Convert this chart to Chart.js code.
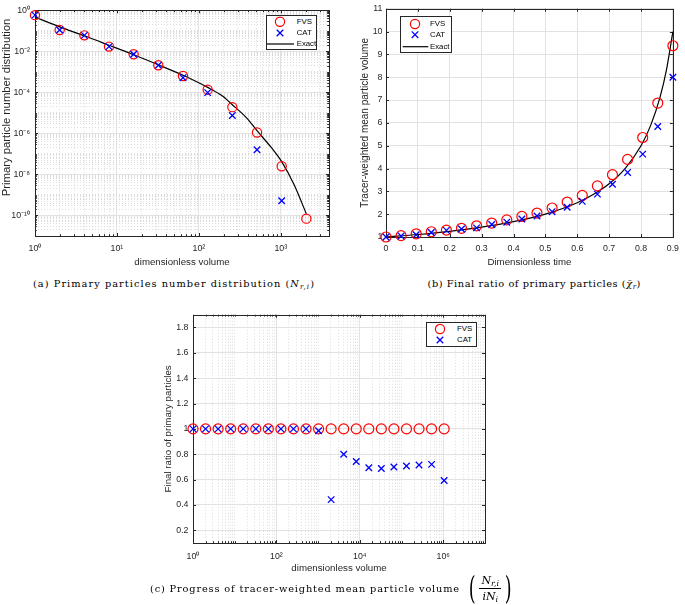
<!DOCTYPE html>
<html><head><meta charset="utf-8">
<script src="https://cdn.jsdelivr.net/npm/chart.js@4.4.1/dist/chart.umd.min.js"></script>
<style>
html,body{margin:0;padding:0;background:#fff;}
body{width:685px;height:605px;overflow:hidden;position:relative;font-family:"Liberation Sans",Arial,sans-serif;}
canvas{position:absolute;}
.leg{position:absolute;box-sizing:border-box;background:#fff;border:1px solid #262626;font:7.8px "Liberation Sans",Arial,sans-serif;color:#000;}
.leg span{position:absolute;line-height:10px;white-space:nowrap;}
.cap{position:absolute;font-family:"DejaVu Serif","Liberation Serif",serif;font-size:9.8px;line-height:13px;white-space:nowrap;color:#000;}
.cap sub{font-size:0.72em;vertical-align:-0.28em;line-height:0;}
.cap i{font-style:italic;}
.paren{font-size:32px;line-height:32px;display:inline-block;transform:scaleX(0.55);font-weight:lighter;}
</style></head>
<body>
<canvas id="ca" width="340" height="272" style="left:0;top:0"></canvas>
<canvas id="cb" width="345" height="272" style="left:340px;top:0"></canvas>
<canvas id="cc" width="345" height="272" style="left:150px;top:305px"></canvas>

<div class="cap" id="capA">(a) Primary particles number distribution (<i>N</i><sub><i>r,i</i></sub>)</div>
<div class="cap" id="capB">(b) Final ratio of primary particles (<i>χ̄</i><sub><i>r</i></sub>)</div>
<div class="cap" id="capC" style="display:flex;align-items:center;height:36px;">
  <span id="capCtext">(c) Progress of tracer-weighted mean particle volume</span>
  <span class="paren" style="margin-left:6px;">(</span>
  <span style="display:inline-flex;flex-direction:column;align-items:center;font-size:11px;line-height:13px;margin:0 1px;">
    <span style="border-bottom:0.8px solid #000;padding:0 2px 1px 2px;"><i>N</i><sub><i>r,i</i></sub></span>
    <span style="padding-top:1px;"><i>iN</i><sub><i>i</i></sub></span>
  </span>
  <span class="paren">)</span>
</div>

<script>
// ---------------- DATA ----------------
// (a) primary particles number distribution
const aVolume = [1, 2, 4, 8, 16, 32, 64, 128, 256, 512, 1024, 2048];
const aFVS    = [0.58, 0.11, 0.06, 0.017, 0.0072, 0.0021, 6.3e-4, 1.35e-4, 1.9e-5, 1.1e-6, 2.5e-8, 7e-11];
const aCATVol = [1, 2, 4, 8, 16, 32, 64, 128, 256, 512, 1024];
const aCAT    = [0.58, 0.11, 0.06, 0.017, 0.0072, 0.0021, 5.2e-4, 9.7e-5, 7.4e-6, 1.6e-7, 5.2e-10];
const aExactX = [1, 2, 4, 8, 16, 32, 64, 128, 192, 256, 384, 512, 768, 1024, 1448, 2048];
const aExactY = [0.47, 0.155, 0.057, 0.0198, 0.0068, 0.0022, 6.8e-4, 1.75e-4, 6.8e-5, 2.5e-5, 5.6e-6, 1.35e-6, 2.0e-7, 4.2e-8, 3.2e-9, 1.2e-10];
const aXTickVals   = [1, 10, 100, 1000];
const aXTickLabels = ['10⁰', '10¹', '10²', '10³'];
const aYTickVals   = [1, 1e-2, 1e-4, 1e-6, 1e-8, 1e-10];
const aYTickLabels = ['10⁰', '10⁻²', '10⁻⁴', '10⁻⁶', '10⁻⁸', '10⁻¹⁰'];

// (b) tracer-weighted mean particle volume vs time
const bTime   = [0, 0.0474, 0.0947, 0.1421, 0.1895, 0.2368, 0.2842, 0.3316, 0.3789, 0.4263, 0.4737, 0.5211, 0.5684, 0.6158, 0.6632, 0.7105, 0.7579, 0.8053, 0.8526, 0.9];
const bFVS    = [1.0, 1.06, 1.14, 1.23, 1.30, 1.38, 1.49, 1.61, 1.75, 1.90, 2.05, 2.27, 2.53, 2.82, 3.24, 3.73, 4.40, 5.36, 6.87, 9.38];
const bCAT    = [1.0, 1.04, 1.10, 1.20, 1.29, 1.35, 1.40, 1.55, 1.65, 1.79, 1.92, 2.11, 2.30, 2.56, 2.88, 3.31, 3.83, 4.63, 5.84, 8.0];
const bExactX = [0, 0.1, 0.2, 0.3, 0.4, 0.5, 0.6, 0.65, 0.7, 0.75, 0.8, 0.83, 0.86, 0.88, 0.9];
const bExactY = [1.0, 1.11, 1.25, 1.43, 1.67, 2.0, 2.5, 2.86, 3.33, 4.0, 5.0, 5.88, 7.14, 8.33, 10.0];
const bXTicks = [0, 0.1, 0.2, 0.3, 0.4, 0.5, 0.6, 0.7, 0.8, 0.9];
const bXTickLabels = ['0', '0.1', '0.2', '0.3', '0.4', '0.5', '0.6', '0.7', '0.8', '0.9'];
const bYTicks = [1, 2, 3, 4, 5, 6, 7, 8, 9, 10, 11];
const bYTickLabels = ['1', '2', '3', '4', '5', '6', '7', '8', '9', '10', '11'];

// (c) final ratio of primary particles
const cVolume = [1, 2, 4, 8, 16, 32, 64, 128, 256, 512, 1024, 2048, 4096, 8192, 16384, 32768, 65536, 131072, 262144, 524288, 1048576];
const cFVS    = [1, 1, 1, 1, 1, 1, 1, 1, 1, 1, 1, 1, 1, 1, 1, 1, 1, 1, 1, 1, 1];
const cCAT    = [1, 1, 1, 1, 1, 1, 1, 1, 1, 1, 0.985, 0.442, 0.80, 0.743, 0.694, 0.687, 0.699, 0.707, 0.715, 0.72, 0.593];
const cXTickVals   = [1, 100, 1e4, 1e6];
const cXTickLabels = ['10⁰', '10²', '10⁴', '10⁶'];
const cYTicks = [0.2, 0.4, 0.6, 0.8, 1.0, 1.2, 1.4, 1.6, 1.8];
const cYTickLabels = ['0.2', '0.4', '0.6', '0.8', '1', '1.2', '1.4', '1.6', '1.8'];

const seriesNames = ['FVS', 'CAT', 'Exact'];

// ---------------- STYLE / HELPERS ----------------
const FONT = '"Liberation Sans", Arial, Helvetica, sans-serif';
const TXT = '#262626';
Chart.defaults.font.family = FONT;
Chart.defaults.color = TXT;

function logTicks(min, max, vals, labels) {
  const t = [];
  const e0 = Math.floor(Math.log10(min)), e1 = Math.ceil(Math.log10(max));
  for (let e = e0; e <= e1; e++) {
    for (let m = 1; m <= 9; m++) {
      const v = m * Math.pow(10, e);
      if (v < min * 0.9999 || v > max * 1.0001) continue;
      const k = vals.findIndex(x => Math.abs(x / v - 1) < 1e-6);
      t.push({ value: v, major: k >= 0, txt: k >= 0 ? labels[k] : '' });
    }
  }
  return t;
}
function linTicks(vals, labels) {
  return vals.map((v, i) => ({ value: v, major: true, txt: labels[i] }));
}
const grid = {
  color: c => (c.tick && c.tick.major) ? '#e2e2e2' : '#dcdcdc',
  lineWidth: 1,
  drawTicks: false
};
const border = { display: false, dash: c => (c.tick && c.tick.major) ? [] : [1, 2] };
const tickFont = { size: 8.8 };
const titleFont = { size: 9.7 };
const lbl = (v, i, t) => t[i].txt;

const framePlugin = {
  id: 'frame',
  beforeDatasetsDraw(chart) {
    const { ctx, chartArea: a } = chart;
    ctx.save();
    ctx.strokeStyle = '#262626';
    ctx.lineWidth = 1;
    ctx.beginPath();
    for (const s of Object.values(chart.scales)) {
      for (const t of s.ticks) {
        const p = Math.round(s.getPixelForValue(t.value)) + 0.5;
        const L = t.major ? 3 : 1.8;
        if (s.isHorizontal()) {
          if (p < a.left || p > a.right + 1) continue;
          ctx.moveTo(p, a.bottom); ctx.lineTo(p, a.bottom - L);
          ctx.moveTo(p, a.top); ctx.lineTo(p, a.top + L);
        } else {
          if (p < a.top || p > a.bottom + 1) continue;
          ctx.moveTo(a.left, p); ctx.lineTo(a.left + L, p);
          ctx.moveTo(a.right, p); ctx.lineTo(a.right - L, p);
        }
      }
    }
    ctx.stroke();
    ctx.strokeRect(Math.round(a.left) + 0.5, Math.round(a.top) + 0.5, Math.round(a.right - a.left), Math.round(a.bottom - a.top));
    ctx.restore();
  }
};

function pts(xs, ys) { return ys.map((y, i) => ({ x: xs[i], y: y })); }
function fvsSet(data, r) {
  return { label: seriesNames[0], data, pointStyle: 'circle', pointRadius: r, pointHoverRadius: r,
    pointBorderColor: '#ff0000', pointBackgroundColor: 'rgba(0,0,0,0)', pointBorderWidth: 1.2, showLine: false, clip: false, order: 2 };
}
function catSet(data, r) {
  return { label: seriesNames[1], data, pointStyle: 'crossRot', pointRadius: r, pointHoverRadius: r,
    pointBorderColor: '#0000ff', pointBackgroundColor: '#0000ff', pointBorderWidth: 1.3, showLine: false, clip: false, order: 1 };
}
function exactSet(data) {
  return { label: seriesNames[2], data, showLine: true, borderColor: '#000', borderWidth: 1.2, pointRadius: 0,
    cubicInterpolationMode: 'monotone', fill: false, clip: false, order: 3 };
}
const common = {
  responsive: false, animation: false, devicePixelRatio: 1,
  plugins: { legend: { display: false }, tooltip: { enabled: false } },
  events: []
};

// ---------------- CHART (a) ----------------
new Chart(document.getElementById('ca'), {
  type: 'scatter',
  data: { datasets: [fvsSet(pts(aVolume, aFVS), 4.6), catSet(pts(aCATVol, aCAT), 4.6), exactSet(pts(aExactX, aExactY))] },
  options: Object.assign({}, common, {
    layout: { padding: { left: 0, right: 11, top: 5, bottom: 0 } },
    scales: {
      x: { type: 'logarithmic', position: 'bottom', min: 1, max: 3870,
        afterBuildTicks: s => { s.ticks = logTicks(1, 3870, aXTickVals, aXTickLabels); },
        afterFit: s => { s.height = 36; },
        ticks: { callback: lbl, autoSkip: false, maxRotation: 0, font: tickFont, padding: 7, color: TXT },
        grid, border,
        title: { display: true, text: 'dimensionless volume', font: titleFont, padding: { top: 0, bottom: 4.2 }, color: TXT } },
      y: { type: 'logarithmic', position: 'left', min: 1e-11, max: 1,
        afterBuildTicks: s => { s.ticks = logTicks(1e-11, 1, aYTickVals, aYTickLabels); },
        afterFit: s => { s.width = 35; },
        ticks: { callback: lbl, autoSkip: false, font: tickFont, padding: 5, color: TXT },
        grid, border,
        title: { display: true, text: '          Primary particle number distribution', font: { size: 11.3 }, padding: { top: 0, bottom: 0 }, color: TXT } }
    }
  }),
  plugins: [framePlugin]
});

// ---------------- CHART (b) ----------------
new Chart(document.getElementById('cb'), {
  type: 'scatter',
  data: { datasets: [fvsSet(pts(bTime, bFVS), 5), catSet(pts(bTime, bCAT), 4.6), exactSet(pts(bExactX, bExactY))] },
  options: Object.assign({}, common, {
    layout: { padding: { left: 0, right: 7, top: 6, bottom: 0 } },
    scales: {
      x: { type: 'linear', position: 'bottom', min: 0, max: 0.9,
        afterBuildTicks: s => { s.ticks = linTicks(bXTicks, bXTickLabels); },
        afterFit: s => { s.height = 35; },
        ticks: { callback: lbl, autoSkip: false, maxRotation: 0, font: tickFont, padding: 6, color: TXT },
        grid, border,
        title: { display: true, text: 'Dimensionless time', font: titleFont, padding: { top: 0, bottom: 4.2 }, color: TXT } },
      y: { type: 'linear', position: 'left', min: 1, max: 11,
        afterBuildTicks: s => { s.ticks = linTicks(bYTicks, bYTickLabels); },
        afterFit: s => { s.width = 46; },
        ticks: { callback: lbl, autoSkip: false, font: tickFont, padding: 3.5, color: TXT },
        grid, border,
        title: { display: true, text: 'Tracer-weighted mean particle volume', font: { size: 10 }, padding: { top: 19, bottom: 0 }, color: TXT } }
    }
  }),
  plugins: [framePlugin]
});

// ---------------- CHART (c) ----------------
new Chart(document.getElementById('cc'), {
  type: 'scatter',
  data: { datasets: [fvsSet(pts(cVolume, cFVS), 5), catSet(pts(cVolume, cCAT), 4.6)] },
  options: Object.assign({}, common, {
    layout: { padding: { left: 0, right: 10, top: 8, bottom: 0 } },
    scales: {
      x: { type: 'logarithmic', position: 'bottom', min: 1, max: 1e7,
        afterBuildTicks: s => { s.ticks = logTicks(1, 1e7, cXTickVals, cXTickLabels); },
        afterFit: s => { s.height = 34; },
        ticks: { callback: lbl, autoSkip: false, maxRotation: 0, font: tickFont, padding: 8.4, color: TXT },
        grid, border,
        title: { display: true, text: 'dimensionless volume', font: titleFont, padding: { top: 0, bottom: 2.9 }, color: TXT } },
      y: { type: 'linear', position: 'left', min: 0.1, max: 1.9,
        afterBuildTicks: s => { s.ticks = linTicks(cYTicks, cYTickLabels); },
        afterFit: s => { s.width = 43; },
        ticks: { callback: lbl, autoSkip: false, font: tickFont, padding: 4.5, color: TXT },
        grid, border,
        title: { display: true, text: 'Final ratio of primary particles', font: titleFont, padding: { top: 12.5, bottom: 0 }, color: TXT } }
    }
  }),
  plugins: [framePlugin]
});

// ---------------- LEGENDS (HTML) ----------------
function legend(x, y, w, h, mx, tx, rows, lx0, lx1) {
  const d = document.createElement('div');
  d.className = 'leg';
  d.style.left = x + 'px'; d.style.top = y + 'px'; d.style.width = w + 'px'; d.style.height = h + 'px';
  let svg = '<svg width="' + (w - 2) + '" height="' + (h - 2) + '" style="position:absolute;left:0;top:0">';
  rows.forEach(r => {
    if (r.kind === 'circle') svg += '<circle cx="' + mx + '" cy="' + r.y + '" r="4.6" fill="none" stroke="#ff0000" stroke-width="1.2"/>';
    else if (r.kind === 'cross') svg += '<path d="M' + (mx - 3.3) + ',' + (r.y - 3.3) + 'L' + (mx + 3.3) + ',' + (r.y + 3.3) + 'M' + (mx + 3.3) + ',' + (r.y - 3.3) + 'L' + (mx - 3.3) + ',' + (r.y + 3.3) + '" stroke="#0000ff" stroke-width="1.3"/>';
    else svg += '<line x1="' + lx0 + '" y1="' + r.y + '" x2="' + lx1 + '" y2="' + r.y + '" stroke="#000" stroke-width="1.2"/>';
  });
  svg += '</svg>';
  d.innerHTML = svg + rows.map(r => '<span style="left:' + tx + 'px;top:' + (r.y - 5) + 'px">' + r.label + '</span>').join('');
  document.body.appendChild(d);
}
legend(266, 15, 51, 35, 13, 29.7, [
  { kind: 'circle', y: 5.7, label: seriesNames[0] },
  { kind: 'cross', y: 17, label: seriesNames[1] },
  { kind: 'line', y: 28, label: seriesNames[2] }], 0, 27);
legend(400, 16, 52, 37, 14, 29, [
  { kind: 'circle', y: 7, label: seriesNames[0] },
  { kind: 'cross', y: 17.7, label: seriesNames[1] },
  { kind: 'line', y: 29.7, label: seriesNames[2] }], 1.7, 27.3);
legend(426, 322, 51, 25, 13, 30, [
  { kind: 'circle', y: 6, label: seriesNames[0] },
  { kind: 'cross', y: 17, label: seriesNames[1] }], 0, 0);

// ---------------- CAPTIONS ----------------
function fit(el, target) {
  const n = el.textContent.length;
  const w = el.getBoundingClientRect().width;
  el.style.letterSpacing = ((target - w) / n) + 'px';
}
const capA = document.getElementById('capA');
fit(capA, 282);
capA.style.left = (174 - 141) + 'px'; capA.style.top = (283 - 6.5) + 'px';
const capB = document.getElementById('capB');
fit(capB, 214);
capB.style.left = (534.5 - 107) + 'px'; capB.style.top = (283 - 6.5) + 'px';
const capCt = document.getElementById('capCtext');
fit(capCt, 310);
const capC = document.getElementById('capC');
capC.style.left = '150px'; capC.style.top = (588 - 18) + 'px';
</script>
</body></html>
